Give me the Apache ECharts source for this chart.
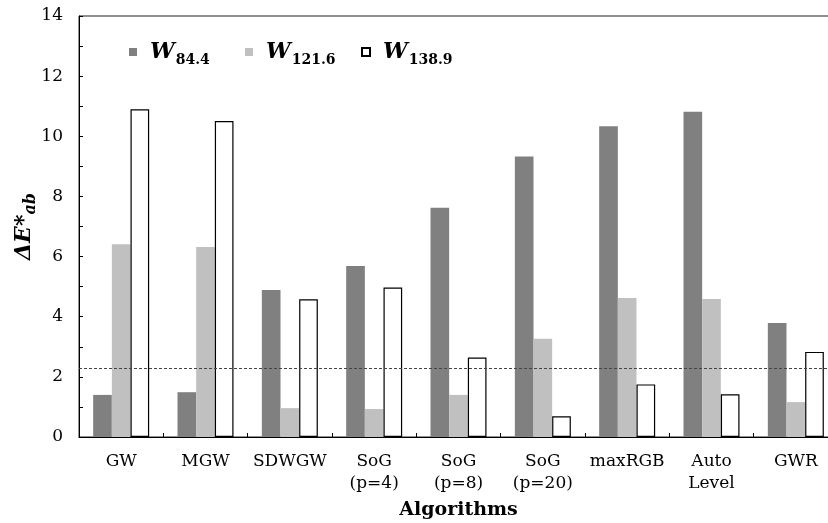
<!DOCTYPE html>
<html>
<head>
<meta charset="utf-8">
<script src="https://cdn.jsdelivr.net/npm/echarts@6/dist/echarts.min.js"></script>
<style>html,body{margin:0;padding:0;background:#fff;overflow:hidden}#c{width:828px;height:523px}</style>
</head>
<body>
<div id="c"></div>
<script>
var categories = ['GW', 'MGW', 'SDWGW', 'SoG\n(p=4)', 'SoG\n(p=8)', 'SoG\n(p=20)', 'maxRGB', 'Auto\nLevel', 'GWR'];
var seriesNames = ['84.4', '121.6', '138.9'];
var w84 = [1.40, 1.49, 4.89, 5.69, 7.62, 9.33, 10.33, 10.82, 3.79];
var w121 = [6.41, 6.32, 0.96, 0.93, 1.40, 3.27, 4.62, 4.59, 1.16];
var w138 = [10.90, 10.51, 4.58, 4.97, 2.64, 0.69, 1.75, 1.42, 2.83];
var thresholdValue = 2.27;
var yTicks = [0, 2, 4, 6, 8, 10, 12, 14];

var FONT = 'DejaVu Serif';
var chart = echarts.init(document.getElementById('c'), null, {renderer: 'canvas'});

var legendRich = {
  w: {fontFamily: FONT, fontSize: 22, fontWeight: 'bold', fontStyle: 'italic', color: '#000'},
  s: {fontFamily: FONT, fontSize: 14, fontWeight: 'bold', color: '#000', padding: [16, 0, 0, 1]}
};
function mkLegend(name, left) {
  return {
    data: [name], left: left, top: 36, orient: 'horizontal',
    itemWidth: 8, itemHeight: 8, icon: 'rect',
    formatter: function (n) { return '{w|W}{s|' + n + '}'; },
    textStyle: {rich: legendRich, padding: [0, 0, 0, 8]},
    selectedMode: false
  };
}

chart.setOption({
  backgroundColor: '#fff',
  animation: false,
  grid: {left: 79, top: 16, width: 759, height: 421, show: true, borderColor: '#222', borderWidth: 1,
    containLabel: false, outerBoundsMode: 'none'},
  legend: [mkLegend(seriesNames[0], 124), mkLegend(seriesNames[1], 240), mkLegend(seriesNames[2], 356)],
  xAxis: {
    type: 'category', data: categories,
    axisLine: {lineStyle: {color: '#000', width: 1}},
    axisTick: {show: true, inside: true, length: 4, lineStyle: {color: '#000'}},
    axisLabel: {fontFamily: FONT, fontSize: 17, color: '#000', margin: 14, lineHeight: 22, interval: 0},
    name: 'Algorithms', nameLocation: 'middle', nameGap: 64, nameMoveOverlap: false,
    nameTextStyle: {fontFamily: FONT, fontSize: 19, fontWeight: 'bold', color: '#000'}
  },
  yAxis: {
    type: 'value', min: 0, max: 14, interval: 2,
    axisLine: {show: true, lineStyle: {color: '#000', width: 1}},
    axisTick: {show: true, inside: true, length: 4, lineStyle: {color: '#000'}},
    minorTick: {show: true, splitNumber: 2, length: 4, lineStyle: {color: '#000'}},
    splitLine: {show: false},
    axisLabel: {fontFamily: FONT, fontSize: 17, color: '#000', margin: 16,
      formatter: function (v) { return yTicks.indexOf(v) >= 0 ? String(v) : ''; }},
    name: '{e|ΔE*}{s|ab}', nameLocation: 'middle', nameGap: 40, nameRotate: 90, nameMoveOverlap: false,
    nameTextStyle: {rich: {
      e: {fontFamily: FONT, fontSize: 22, fontWeight: 'bold', fontStyle: 'italic', color: '#000'},
      s: {fontFamily: FONT, fontSize: 16, fontWeight: 'bold', fontStyle: 'italic', color: '#000', padding: [14, 0, 0, 0]}
    }}
  },
  series: [
    {name: seriesNames[0], type: 'bar', data: w84, barGap: '0%', barCategoryGap: '33.6%',
     itemStyle: {color: '#808080'},
     markLine: {silent: true, symbol: 'none', label: {show: false},
       lineStyle: {type: [3, 2], color: '#444', width: 1.2},
       data: [{yAxis: thresholdValue}]}},
    {name: seriesNames[1], type: 'bar', data: w121, barGap: '0%', barCategoryGap: '33.6%',
     itemStyle: {color: '#c0c0c0'}},
    {name: seriesNames[2], type: 'bar', data: w138, barGap: '0%', barCategoryGap: '33.6%',
     itemStyle: {color: '#ffffff', borderColor: '#000', borderWidth: 1.2}}
  ]
});
</script>
</body>
</html>
